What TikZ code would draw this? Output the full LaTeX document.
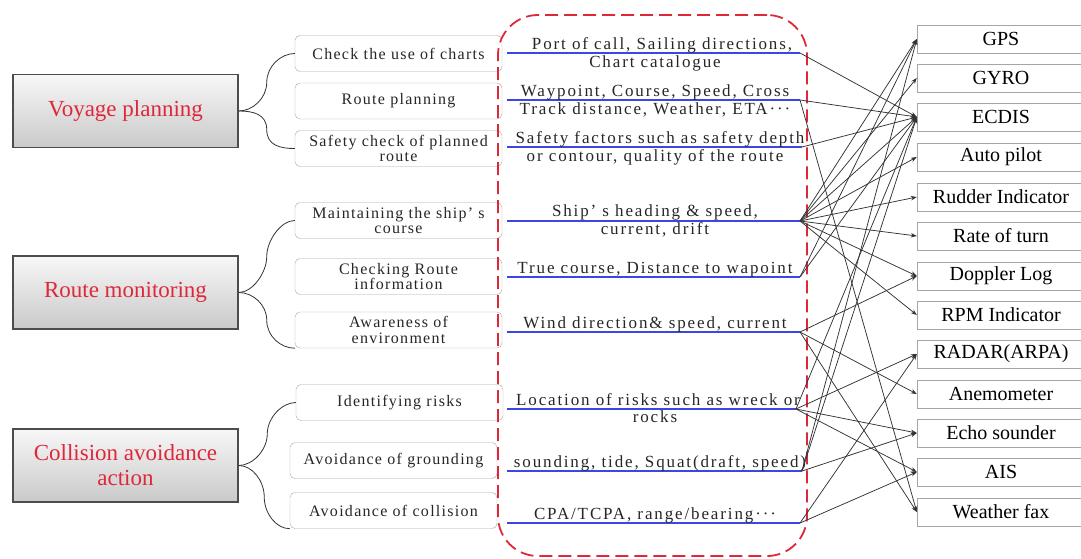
\documentclass[tikz,border=0pt]{standalone}
\usepackage{fontspec}
\setmainfont{Liberation Serif}
\newfontfamily\widefont[LetterSpace=8]{Liberation Serif}
\newfontfamily\infofont[LetterSpace=11]{Liberation Serif}
\usetikzlibrary{arrows.meta}
\usetikzlibrary{shapes}
\usetikzlibrary{calc}

\definecolor{phasered}{RGB}{222,40,58}
\definecolor{lineblue}{RGB}{60,70,225}

\begin{document}
\begin{tikzpicture}[x = 1pt, y = -1pt]
	\useasboundingbox (0,0) rectangle (1081,558);
	\tikzstyle{phaseStyle} = [draw = gray!60!black, line width = 1.4pt, top color = gray!6, bottom color = gray!42, minimum width = 225pt, minimum height = 73pt, text = phasered, align = center, font = \fontsize{23}{25}\selectfont]
	\tikzstyle{taskStyle} = [draw = gray!70, rounded corners = 5pt, minimum width = 207pt, minimum height = 36pt, inner sep = 1pt, align = center, text = black!85, font = \widefont\fontsize{16}{15.5}\selectfont]
	\tikzstyle{infoStyle} = [inner sep = 0pt, anchor = base, text = black!85, font = \infofont\fontsize{17}{18}\selectfont]
	\tikzstyle{deviceStyle} = [draw = gray!70, minimum width = 168pt, minimum height = 28pt, inner sep = 0pt, font = \fontsize{20}{21}\selectfont]
	\tikzstyle{frameStyle} = [draw = phasered, dashed, dash pattern = on 13pt off 6pt, line width = 1.8pt, rounded corners = 40pt, minimum width = 309pt, minimum height = 541pt]
	\tikzstyle{braceStyle} = [draw = gray!40!black, line width = 0.8pt]
	\tikzstyle{blueStyle} = [draw = lineblue, line width = 1.5pt]
	\tikzstyle{linkStyle} = [-{Stealth[length = 6pt, width = 4.5pt]}, draw = black!80, line width = 0.75pt]
	% phases
	\node[phaseStyle] (vp) at (125.5,111) {Voyage planning};
	\node[phaseStyle] (rm) at (125.5,292.5) {Route monitoring};
	\node[phaseStyle] (ca) at (125.5,465.5) {Collision avoidance\\action};
	% tasks
	\node[taskStyle] (chk) at (398.5,53.5) {Check the use of charts};
	\node[taskStyle] (rte) at (398.5,101) {Route planning};
	\node[taskStyle] (saf) at (398.5,148.5) {Safety check of planned\\route};
	\node[taskStyle] (mnt) at (398.5,220.5) {Maintaining the ship’ s\\course};
	\node[taskStyle] (cri) at (398.5,276.5) {Checking Route\\information};
	\node[taskStyle] (awr) at (398.5,330) {Awareness of\\environment};
	\node[taskStyle] (idr) at (399.5,402.5) {Identifying risks};
	\node[taskStyle] (avg) at (393.5,460.5) {Avoidance of grounding};
	\node[taskStyle] (avc) at (393.5,510.5) {Avoidance of collision};
	% braces
	\coordinate (m1) at ($(vp.east)!0.5!(chk.west)$);
	\coordinate (m2) at ($(vp.east)!0.5!(saf.west)$);
	\coordinate (m3) at ($(rm.east)!0.5!(mnt.west)$);
	\coordinate (m4) at ($(rm.east)!0.5!(awr.south west)$);
	\coordinate (m5) at ($(ca.east)!0.5!(idr.west)$);
	\coordinate (m6) at ($(ca.east)!0.5!(avc.south west)$);
	\draw[braceStyle] (vp.east) .. controls +(14,0) and +(0,16) .. (m1) .. controls +(0,-16) and +(-14,0) .. (chk.west);
	\draw[braceStyle] (vp.east) .. controls +(14,0) and +(0,-16) .. (m2) .. controls +(0,16) and +(-14,0) .. (saf.west);
	\draw[braceStyle] (rm.east) .. controls +(14,0) and +(0,16) .. (m3) .. controls +(0,-16) and +(-14,0) .. (mnt.west);
	\draw[braceStyle] (rm.east) .. controls +(14,0) and +(0,-16) .. (m4) .. controls +(0,16) and +(-14,0) .. (awr.south west);
	\draw[braceStyle] (ca.east) .. controls +(14,0) and +(0,16) .. (m5) .. controls +(0,-16) and +(-14,0) .. (idr.west);
	\draw[braceStyle] (ca.east) .. controls +(14,0) and +(0,-16) .. (m6) .. controls +(0,16) and +(-14,0) .. (avc.south west);
	% information lines
	\coordinate (a1) at (507,53);  \coordinate (p1) at (800,53);
	\coordinate (a2) at (507,100); \coordinate (p2) at (800,100);
	\coordinate (a3) at (507,147); \coordinate (p3) at (802,147);
	\coordinate (a4) at (507,221); \coordinate (p4) at (800,221);
	\coordinate (a5) at (507,277); \coordinate (p5) at (800,277);
	\coordinate (a6) at (507,332); \coordinate (p6) at (800,332);
	\coordinate (a7) at (507,409); \coordinate (p7) at (796,409);
	\coordinate (a8) at (507,471); \coordinate (p8) at (802,471);
	\coordinate (a9) at (507,523); \coordinate (p9) at (800,523);
	\draw[blueStyle] (a1) -- (p1);
	\draw[blueStyle] (a2) -- (p2);
	\draw[blueStyle] (a3) -- (p3);
	\draw[blueStyle] (a4) -- (p4);
	\draw[blueStyle] (a5) -- (p5);
	\draw[blueStyle] (a6) -- (p6);
	\draw[blueStyle] (a7) -- (p7);
	\draw[blueStyle] (a8) -- (p8);
	\draw[blueStyle] (a9) -- (p9);
	\node[infoStyle] (i1a) at (662,49) {Port of call, Sailing directions,};
	\node[infoStyle] (i1b) at (655,67) {Chart catalogue};
	\node[infoStyle] (i2a) at (655,96) {Waypoint, Course, Speed, Cross};
	\node[infoStyle] (i2b) at (655,114) {Track distance, Weather, ETA···};
	\node[infoStyle] (i3a) at (660,143) {Safety factors such as safety depth};
	\node[infoStyle] (i3b) at (655,161) {or contour, quality of the route};
	\node[infoStyle] (i4a) at (655,216) {Ship’ s heading \& speed,};
	\node[infoStyle] (i4b) at (655,234) {current, drift};
	\node[infoStyle] (i5a) at (655,273) {True course, Distance to wapoint};
	\node[infoStyle] (i6a) at (655,328) {Wind direction\& speed, current};
	\node[infoStyle] (i7a) at (658,405) {Location of risks such as wreck or};
	\node[infoStyle] (i7b) at (655,422) {rocks};
	\node[infoStyle] (i8a) at (660,467) {sounding, tide, Squat(draft, speed)};
	\node[infoStyle] (i9a) at (655,519) {CPA/TCPA, range/bearing···};
	% frame
	\node[frameStyle] (frm) at (652.5,285.5) {};
	% devices
	\node[deviceStyle] (gps) at (1001,39) {GPS};
	\node[deviceStyle] (gyro) at (1001,78) {GYRO};
	\node[deviceStyle] (ecdis) at (1001,117) {ECDIS};
	\node[deviceStyle] (ap) at (1001,157) {Auto pilot};
	\node[deviceStyle] (rud) at (1001,197) {Rudder Indicator};
	\node[deviceStyle] (rot) at (1001,236) {Rate of turn};
	\node[deviceStyle] (dop) at (1001,276) {Doppler Log};
	\node[deviceStyle] (rpm) at (1001,315) {RPM Indicator};
	\node[deviceStyle] (radar) at (1001,354) {RADAR(ARPA)};
	\node[deviceStyle] (anem) at (1001,394) {Anemometer};
	\node[deviceStyle] (echo) at (1001,433) {Echo sounder};
	\node[deviceStyle] (ais) at (1001,472) {AIS};
	\node[deviceStyle] (wfax) at (1001,512) {Weather fax};
	% links
	\draw[linkStyle] (p1) -- (ecdis.west);
	\draw[linkStyle] (p2) -- (ecdis.west);
	\draw[linkStyle] (p2) -- (wfax.west);
	\draw[linkStyle] (p3) -- (ecdis.west);
	\draw[linkStyle] (p4) -- (gps.west);
	\draw[linkStyle] (p4) -- (gyro.west);
	\draw[linkStyle] (p4) -- (ecdis.west);
	\draw[linkStyle] (p4) -- (ap.west);
	\draw[linkStyle] (p4) -- (rud.west);
	\draw[linkStyle] (p4) -- (rot.west);
	\draw[linkStyle] (p4) -- (dop.west);
	\draw[linkStyle] (p4) -- (rpm.west);
	\draw[linkStyle] (p5) -- (gps.west);
	\draw[linkStyle] (p5) -- (ecdis.west);
	\draw[linkStyle] (p6) -- (dop.west);
	\draw[linkStyle] (p6) -- (anem.west);
	\draw[linkStyle] (p6) -- (wfax.west);
	\draw[linkStyle] (p7) -- (ecdis.west);
	\draw[linkStyle] (p7) -- (radar.west);
	\draw[linkStyle] (p7) -- (echo.west);
	\draw[linkStyle] (p7) -- (ais.west);
	\draw[linkStyle] (p8) -- (gps.west);
	\draw[linkStyle] (p8) -- (ecdis.west);
	\draw[linkStyle] (p8) -- (echo.west);
	\draw[linkStyle] (p9) -- (radar.west);
	\draw[linkStyle] (p9) -- (ais.west);
\end{tikzpicture}
\end{document}
